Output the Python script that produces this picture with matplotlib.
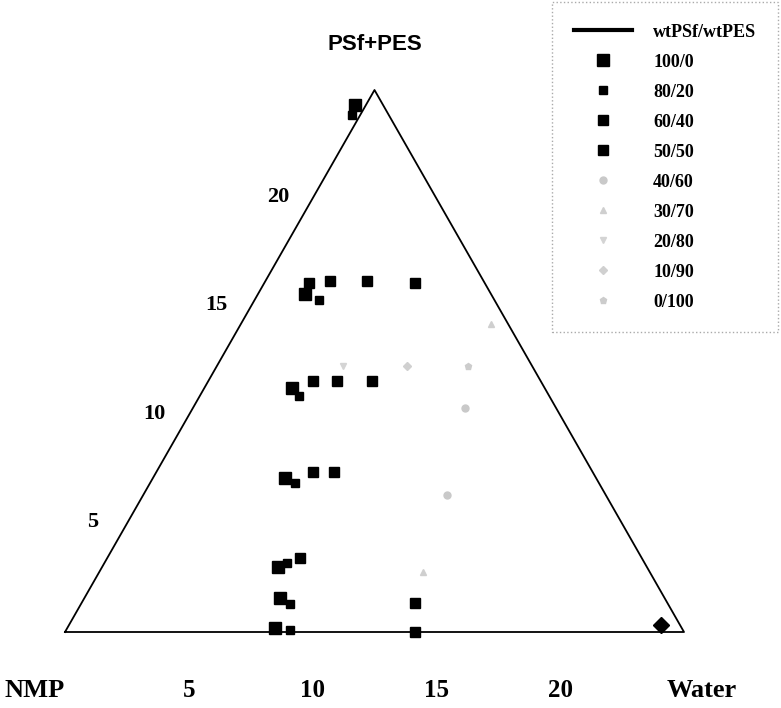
import numpy as np
import matplotlib
matplotlib.use("Agg")
import matplotlib.pyplot as plt

# ---------------- data (ternary, scale 0-25 wt%) ----------------
# each point: (polymer PSf+PES, water)
corner_top = "PSf+PES"
corner_left = "NMP"
corner_right = "Water"
axis_ticks = [5, 10, 15, 20]
scale_max = 25

line_label = "wtPSf/wtPES"
series_labels = ["100/0", "80/20", "60/40", "50/50", "40/60", "30/70", "20/80", "10/90", "0/100"]

s1_polymer = [24.3, 15.6, 11.25, 7.1, 3.0, 1.57, 0.18]
s1_water   = [-0.44, 1.9, 3.54, 5.34, 7.1, 7.9, 8.39]
s2_polymer = [23.85, 15.3, 10.9, 6.87, 3.18, 1.29, 0.1]
s2_water   = [-0.33, 2.6, 4.0, 5.85, 7.37, 8.44, 9.04]
s3_polymer = [16.1, 16.2, 11.58, 11.58, 7.38, 3.41]
s3_water   = [1.8, 2.6, 4.23, 5.2, 6.33, 7.78]
s4_polymer = [16.2, 16.1, 11.58, 7.38, 1.34, 0.0]
s4_water   = [4.1, 6.1, 6.6, 7.17, 13.46, 14.14]
s5_polymer = [10.33, 6.32]
s5_water   = [11.0, 12.27]
s6_polymer = [2.77, 14.2]
s6_water   = [13.08, 10.1]
s7_polymer = [12.27]
s7_water   = [5.09]
s8_polymer = [12.27]
s8_water   = [7.67]
s9_polymer = [12.27]
s9_water   = [10.14]
end_polymer = [0.32]
end_water   = [23.9]

SQ3 = np.sqrt(3) / 2


def tern(p, w):
    p = np.asarray(p, float)
    w = np.asarray(w, float)
    return w + p / 2.0, p * SQ3


fig = plt.figure(figsize=(7.81, 7.08), dpi=100)
ax = fig.add_axes([65 / 781, 76 / 708, 619 / 781, 542 / 708])
ax.set_xlim(0, scale_max)
ax.set_ylim(0, scale_max * SQ3)
ax.axis("off")

serif = {"family": "Liberation Serif", "weight": "bold"}

# triangle border (drawn as the line series)
bx, by = tern([0, 0, scale_max, 0], [0, scale_max, 0, 0])
ax.plot(bx, by, color="black", lw=1.3, label=line_label, clip_on=False, zorder=2)

series = [
    (s1_polymer, s1_water, "s", "black", 8),
    (s2_polymer, s2_water, "s", "black", 6),
    (s3_polymer, s3_water, "s", "black", 6.5),
    (s4_polymer, s4_water, "s", "black", 6.5),
    (s5_polymer, s5_water, "o", "#c9c9c9", 5),
    (s6_polymer, s6_water, "^", "#cfcfcf", 5),
    (s7_polymer, s7_water, "v", "#d4d4d4", 5),
    (s8_polymer, s8_water, "D", "#d0d0d0", 4.5),
    (s9_polymer, s9_water, "p", "#cccccc", 5),
]
for (p, w, m, c, ms), lab in zip(series, series_labels):
    x, y = tern(p, w)
    ax.plot(x, y, ls="none", marker=m, color=c, ms=ms, label=lab,
            clip_on=False, zorder=3)

ex, ey = tern(end_polymer, end_water)
ax.plot(ex, ey, ls="none", marker="D", color="black", ms=8, clip_on=False, zorder=3)

# bottom tick labels
for v in axis_ticks:
    x, y = tern(0, v)
    ax.annotate(str(v), (x, y), xytext=(0, -42), textcoords="offset points",
                ha="center", va="center", fontsize=18, **serif)
x, y = tern(0, 0)
ax.annotate(corner_left, (x, y), xytext=(-22, -42), textcoords="offset points",
            ha="center", va="center", fontsize=19, **serif)
x, y = tern(0, scale_max)
ax.annotate(corner_right, (x, y), xytext=(13, -42), textcoords="offset points",
            ha="center", va="center", fontsize=19, **serif)

# left axis tick labels
for v in axis_ticks:
    x, y = tern(v, 0)
    ax.annotate(str(v), (x, y), xytext=(-25, 1), textcoords="offset points",
                ha="center", va="center", fontsize=16, **serif)

# apex title
x, y = tern(scale_max, 0)
ax.annotate(corner_top, (x, y), xytext=(0, 33), textcoords="offset points",
            ha="center", va="center", fontsize=16, family="Liberation Sans",
            weight="bold")

leg = fig.legend(loc="upper right", bbox_to_anchor=(778 / 781, 1 - 2 / 708),
                 borderaxespad=0.0,
                 prop={"family": "Liberation Serif", "weight": "bold", "size": 13},
                 labelspacing=0.72, handlelength=3.2, borderpad=1.2,
                 handletextpad=1.2, fancybox=False, framealpha=1)
leg.get_frame().set_edgecolor("#aaaaaa")
leg.get_frame().set_linestyle(":")
leg.get_lines()[0].set_linewidth(3)

fig.savefig("out.png", dpi=100)
